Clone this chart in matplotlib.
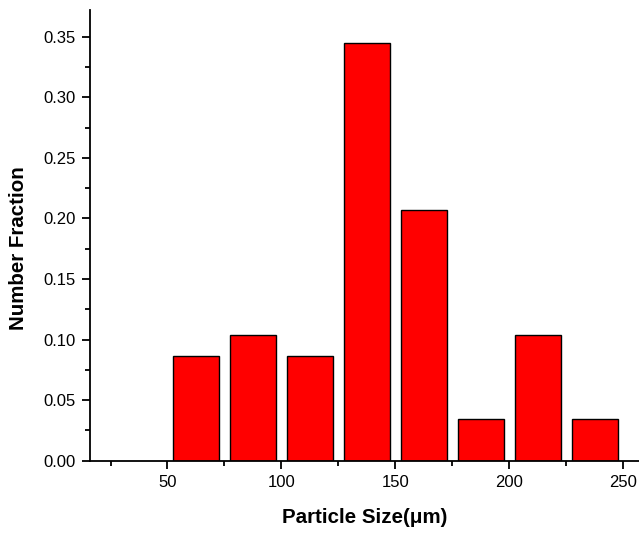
import matplotlib
matplotlib.use("Agg")
import matplotlib.pyplot as plt
from matplotlib.ticker import MultipleLocator

plt.rcParams['font.family'] = ['Liberation Sans', 'DejaVu Sans']

bin_centers = [62.5, 87.5, 112.5, 137.5, 162.5, 187.5, 212.5, 237.5]
fractions = [5/58, 6/58, 5/58, 20/58, 12/58, 2/58, 6/58, 2/58]
x_ticks = [50, 100, 150, 200, 250]
y_ticks = [0.00, 0.05, 0.10, 0.15, 0.20, 0.25, 0.30, 0.35]

fig = plt.figure(figsize=(6.39, 5.33), dpi=100)
ax = fig.add_axes([90/639, 1 - 460.7/533, (639 - 90)/639, (460.7 - 10)/533])

ax.bar(bin_centers, fractions, width=20, color='#ff0000', edgecolor='black', linewidth=1.0)

ax.set_xlim(16, 256.9)
ax.set_ylim(0, 0.372)
ax.set_xticks(x_ticks)
ax.set_yticks(y_ticks)
ax.set_yticklabels([f"{v:.2f}" for v in y_ticks])
ax.xaxis.set_minor_locator(MultipleLocator(25))
ax.yaxis.set_minor_locator(MultipleLocator(0.025))

for s in ['top', 'right']:
    ax.spines[s].set_visible(False)
for s in ['left', 'bottom']:
    ax.spines[s].set_linewidth(1.3)

ax.tick_params(which='major', direction='out', length=6, width=1.3, labelsize=12, pad=4)
ax.tick_params(which='minor', direction='out', length=3.5, width=1.3)

ax.set_xlabel('Particle Size(μm)', fontsize=14.8, fontweight='bold', va='center')
ax.xaxis.set_label_coords(0.5, -0.125)
ax.set_ylabel('Number Fraction', fontsize=14.8, fontweight='bold', va='center')
ax.yaxis.set_label_coords(-0.130, 0.471)

fig.savefig('out.png', dpi=100)
